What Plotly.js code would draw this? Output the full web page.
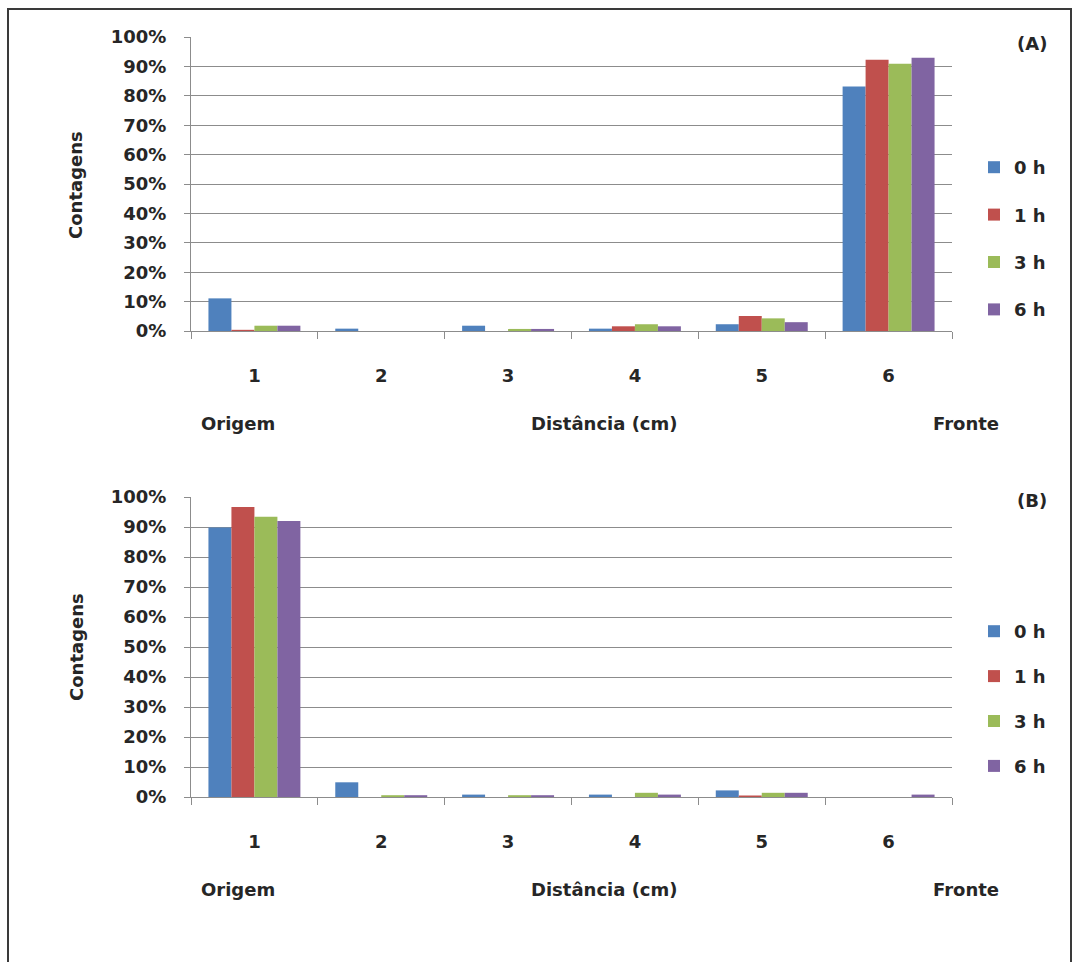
<!DOCTYPE html>
<html>
<head>
<meta charset="utf-8">
<script src="https://cdn.plot.ly/plotly-3.0.1.min.js"></script>
<style>
  html, body { margin: 0; padding: 0; background: #fff; }
  #chart { width: 1075px; height: 962px; }
</style>
</head>
<body>
<div id="chart"></div>
<script>
// Distance classes along the strip (cm)
const distancias = ["1", "2", "3", "4", "5", "6"];
const series = ["0 h", "1 h", "3 h", "6 h"];
const cores = ["#4F81BD", "#C0504D", "#9BBB59", "#8064A2"];

// Panel (A): counts per distance, percent
const painelA_0h = [11.1, 0.8, 1.8, 0.8, 2.3, 83.2];
const painelA_1h = [0.4, 0, 0, 1.6, 5.1, 92.3];
const painelA_3h = [1.8, 0, 0.7, 2.3, 4.3, 90.9];
const painelA_6h = [1.8, 0, 0.7, 1.6, 3.0, 92.9];

// Panel (B): counts per distance, percent
const painelB_0h = [89.8, 4.9, 0.8, 0.8, 2.2, 0];
const painelB_1h = [96.7, 0, 0, 0, 0.5, 0];
const painelB_3h = [93.4, 0.6, 0.6, 1.4, 1.4, 0];
const painelB_6h = [92.0, 0.6, 0.6, 0.8, 1.4, 0.8];

const painelA = [painelA_0h, painelA_1h, painelA_3h, painelA_6h];
const painelB = [painelB_0h, painelB_1h, painelB_3h, painelB_6h];

const W = 1075, H = 962;
const px = x => x / W;
const py = y => 1 - y / H;

const FONT = "DejaVu Sans";
const txtColor = "#262626";

const traces = [];
painelA.forEach((vals, i) => {
  traces.push({
    type: "bar", x: distancias, y: vals, name: series[i],
    marker: { color: cores[i] }, xaxis: "x", yaxis: "y",
    legend: "legend", legendgroup: "a" + i, hoverinfo: "skip"
  });
});
painelB.forEach((vals, i) => {
  traces.push({
    type: "bar", x: distancias, y: vals, name: series[i],
    marker: { color: cores[i] }, xaxis: "x2", yaxis: "y2",
    legend: "legend2", legendgroup: "b" + i, hoverinfo: "skip"
  });
});

const tickFont = { family: FONT, size: 18, color: txtColor, weight: "bold" };

function xAxis(yAnchor) {
  return {
    type: "category", domain: [px(191), px(952)], anchor: yAnchor,
    tickson: "boundaries", ticks: "outside", ticklen: 7, tickcolor: "#8c8c8c",
    showline: true, linecolor: "#8c8c8c", linewidth: 1,
    showgrid: false, zeroline: false, tickfont: tickFont,
    ticklabelstandoff: 28, fixedrange: true
  };
}
function yAxis(xAnchor, top, bottom) {
  return {
    domain: [py(bottom), py(top)], anchor: xAnchor, range: [0, 100],
    dtick: 10, ticksuffix: "%", ticks: "outside", ticklen: 6, tickcolor: "#8c8c8c",
    showline: true, linecolor: "#8c8c8c", linewidth: 1,
    showgrid: true, gridcolor: "#8c8c8c", gridwidth: 1, zeroline: false,
    tickfont: tickFont, ticklabelstandoff: 14, fixedrange: true
  };
}

function label(text, x, y, extra) {
  return Object.assign({
    text: text, xref: "paper", yref: "paper", x: px(x), y: py(y),
    showarrow: false, xanchor: "center", yanchor: "middle",
    font: { family: FONT, size: 18, color: txtColor, weight: "bold" }
  }, extra || {});
}

const legendBase = {
  xref: "paper", yref: "paper", xanchor: "left", yanchor: "top",
  bgcolor: "rgba(0,0,0,0)", borderwidth: 0,
  font: { family: FONT, size: 18, color: txtColor, weight: "bold" },
  itemwidth: 30, itemclick: false, itemdoubleclick: false
};

const layout = {
  width: W, height: H,
  margin: { l: 0, r: 0, t: 0, b: 0 },
  paper_bgcolor: "#ffffff", plot_bgcolor: "#ffffff",
  showlegend: true,
  barmode: "group", bargap: 0.275, bargroupgap: 0,
  xaxis: xAxis("y"),
  yaxis: yAxis("x", 37, 331),
  xaxis2: xAxis("y2"),
  yaxis2: yAxis("x2", 497, 797),
  legend: Object.assign({}, legendBase, { x: px(974), y: py(149), tracegroupgap: 21 }),
  legend2: Object.assign({}, legendBase, { x: px(974), y: py(613), tracegroupgap: 18.5 }),
  annotations: [
    label("(A)", 1032, 43),
    label("(B)", 1032, 500),
    label("Contagens", 76, 185, { textangle: -90 }),
    label("Contagens", 76, 647, { textangle: -90 }),
    label("Origem", 238, 423),
    label("Distância (cm)", 604, 423),
    label("Fronte", 966, 423),
    label("Origem", 238, 889),
    label("Distância (cm)", 604, 889),
    label("Fronte", 966, 889)
  ],
  shapes: [
    { type: "rect", xref: "paper", yref: "paper",
      x0: px(8), x1: px(1071), y0: py(990), y1: py(9),
      line: { color: "#3a3a3a", width: 2 }, fillcolor: "rgba(0,0,0,0)" }
  ]
};

Plotly.newPlot("chart", traces, layout, { staticPlot: true, displayModeBar: false });
</script>
</body>
</html>
